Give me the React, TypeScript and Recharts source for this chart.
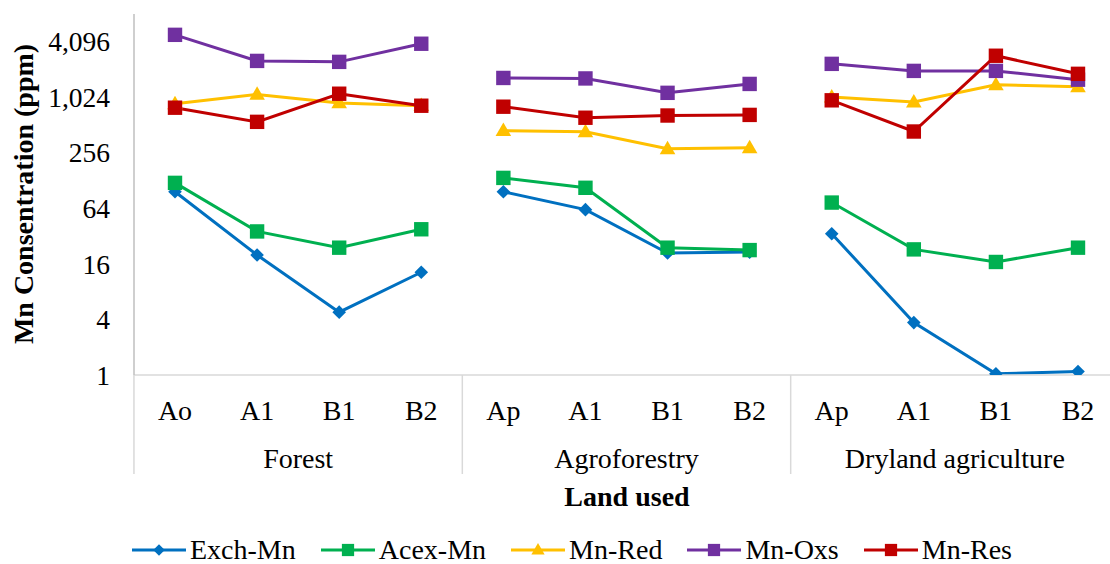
import React from "react";
import { LineChart, Line, XAxis, YAxis } from "recharts";

const groups = ["Forest", "Agroforestry", "Dryland agriculture"];
const horizons = ["Ao", "A1", "B1", "B2", "Ap", "A1", "B1", "B2", "Ap", "A1", "B1", "B2"];
const yTicks = [1, 4, 16, 64, 256, 1024, 4096];

const exchMn = [97, 20, 4.8, 13, 97, 62, 21, 21.5, 34, 3.7, 1.03, 1.09];
const acexMn = [121, 36, 24, 38, 137, 107, 24, 22.6, 74, 23, 16.8, 24];
const mnRed = [870, 1100, 890, 830, 445, 433, 283, 290, 1030, 910, 1400, 1330];
const mnOxs = [4870, 2540, 2480, 3900, 1660, 1640, 1145, 1430, 2360, 1980, 1980, 1590];
const mnRes = [790, 555, 1120, 830, 810, 615, 650, 660, 950, 436, 2890, 1840];

type Shape = "diamond" | "square" | "triangle";

const series = [
  { key: "exch", name: "Exch-Mn", color: "#0070C0", shape: "diamond" as Shape, values: exchMn },
  { key: "acex", name: "Acex-Mn", color: "#00B050", shape: "square" as Shape, values: acexMn },
  { key: "red", name: "Mn-Red", color: "#FFC000", shape: "triangle" as Shape, values: mnRed },
  { key: "oxs", name: "Mn-Oxs", color: "#7030A0", shape: "square" as Shape, values: mnOxs },
  { key: "res", name: "Mn-Res", color: "#C00000", shape: "square" as Shape, values: mnRes },
];

const PER_GROUP = 4;

// one column per series per land use, so the lines break between groups
const data = horizons.map((h, i) => {
  const g = Math.floor(i / PER_GROUP);
  const row: Record<string, any> = { id: `${groups[g]}-${h}-${i}`, h };
  series.forEach((s) => {
    groups.forEach((_, gi) => {
      row[`${s.key}_${gi}`] = gi === g ? s.values[i] : null;
    });
  });
  return row;
});

const FONT = "'Liberation Serif', 'Times New Roman', serif";
const CHART_W = 1120;
const CHART_H = 564;
const Y_W = 134;
const PAD = 41;
const MARGIN = { top: 14, right: 1, bottom: 89, left: 0 };
const PLOT_W = CHART_W - Y_W - MARGIN.left - MARGIN.right;
const STEP = (PLOT_W - 2 * PAD) / (horizons.length - 1);
const AXIS_Y = CHART_H - MARGIN.bottom - 100;
const GRID = "#d9d9d9";

const Marker = ({ cx, cy, color, shape, s = 1 }: any) => {
  if (cx == null || cy == null) return <g />;
  if (shape === "diamond") {
    const r = 6.8 * s;
    return <path d={`M${cx},${cy - r}L${cx + r},${cy}L${cx},${cy + r}L${cx - r},${cy}Z`} fill={color} />;
  }
  if (shape === "triangle") {
    const w = 7.8 * s;
    const h = 13.5 * s;
    return (
      <path
        d={`M${cx},${cy - h * 0.6}L${cx + w},${cy + h * 0.4}L${cx - w},${cy + h * 0.4}Z`}
        fill={color}
      />
    );
  }
  const r = 7.2 * s;
  return <rect x={cx - r} y={cy - r} width={2 * r} height={2 * r} fill={color} />;
};

const XTick = (props: any) => {
  const { x, index } = props;
  const parts: React.ReactNode[] = [];
  parts.push(
    <text key="t" x={x} y={AXIS_Y + 45} textAnchor="middle" fontFamily={FONT} fontSize={28} fill="#000">
      {horizons[index]}
    </text>
  );
  if (index % PER_GROUP === 0) {
    parts.push(<line key="s" x1={x - STEP / 2} x2={x - STEP / 2} y1={AXIS_Y} y2={AXIS_Y + 99} stroke={GRID} strokeWidth={1.5} />);
  }
  if (index === horizons.length - 1) {
    parts.push(<line key="e" x1={x + STEP / 2} x2={x + STEP / 2} y1={AXIS_Y} y2={AXIS_Y + 99} stroke={GRID} strokeWidth={1.5} />);
  }
  if (index % PER_GROUP === 1) {
    parts.push(
      <text key="g" x={x + STEP / 2} y={AXIS_Y + 93} textAnchor="middle" fontFamily={FONT} fontSize={28} fill="#000">
        {groups[Math.floor(index / PER_GROUP)]}
      </text>
    );
  }
  return <g>{parts}</g>;
};

const YTick = (props: any) => {
  const { y, payload } = props;
  return (
    <text x={110} y={y} dy="0.35em" textAnchor="end" fontFamily={FONT} fontSize={27.5} fill="#000">
      {Number(payload.value).toLocaleString("en-US")}
    </text>
  );
};

const App: React.FC = () => {
  return (
    <div
      style={{
        position: "absolute",
        left: 0,
        top: 0,
        width: 1110,
        height: 564,
        overflow: "hidden",
        background: "#fff",
        fontFamily: FONT,
      }}
    >
      <LineChart width={CHART_W} height={CHART_H} data={data} margin={MARGIN}>
        <XAxis
          dataKey="id"
          interval={0}
          tickLine={false}
          height={100}
          padding={{ left: PAD, right: PAD }}
          axisLine={{ stroke: GRID, strokeWidth: 1.5 }}
          tick={<XTick />}
        />
        <YAxis
          scale="log"
          domain={[1, 8192]}
          ticks={yTicks}
          allowDataOverflow
          width={Y_W}
          tickLine={false}
          axisLine={{ stroke: "#bfbfbf", strokeWidth: 1.5 }}
          tick={<YTick />}
        />
        {series.flatMap((s) =>
          groups.map((_, gi) => (
            <Line
              key={`${s.key}_${gi}`}
              type="linear"
              dataKey={`${s.key}_${gi}`}
              stroke={s.color}
              strokeWidth={3}
              connectNulls={false}
              isAnimationActive={false}
              dot={(p: any) => <Marker key={`${s.key}_${gi}_${p.index}`} cx={p.cx} cy={p.cy} color={s.color} shape={s.shape} />}
              activeDot={false}
            />
          ))
        )}
      </LineChart>

      <div
        style={{
          position: "absolute",
          left: 24,
          top: 194,
          transform: "translate(-50%, -50%) rotate(-90deg)",
          whiteSpace: "nowrap",
          fontWeight: "bold",
          fontSize: 28,
          lineHeight: "32px",
        }}
      >
        Mn Consentration (ppm)
      </div>

      <div
        style={{
          position: "absolute",
          left: 627,
          top: 497,
          transform: "translate(-50%, -50%)",
          whiteSpace: "nowrap",
          fontWeight: "bold",
          fontSize: 28,
          lineHeight: "32px",
        }}
      >
        Land used
      </div>

      <div
        style={{
          position: "absolute",
          left: 0,
          top: 536,
          width: 1144,
          height: 28,
          display: "flex",
          justifyContent: "center",
          alignItems: "center",
          gap: 25,
          fontSize: 28,
          lineHeight: "28px",
        }}
      >
        {series.map((s) => (
          <div key={s.key} style={{ display: "flex", alignItems: "center" }}>
            <svg width={54} height={20} style={{ marginRight: 4 }}>
              <line x1={0} x2={54} y1={10} y2={10} stroke={s.color} strokeWidth={3} />
              <Marker cx={27} cy={10} color={s.color} shape={s.shape} s={0.85} />
            </svg>
            <span>{s.name}</span>
          </div>
        ))}
      </div>
    </div>
  );
};

export default App;
